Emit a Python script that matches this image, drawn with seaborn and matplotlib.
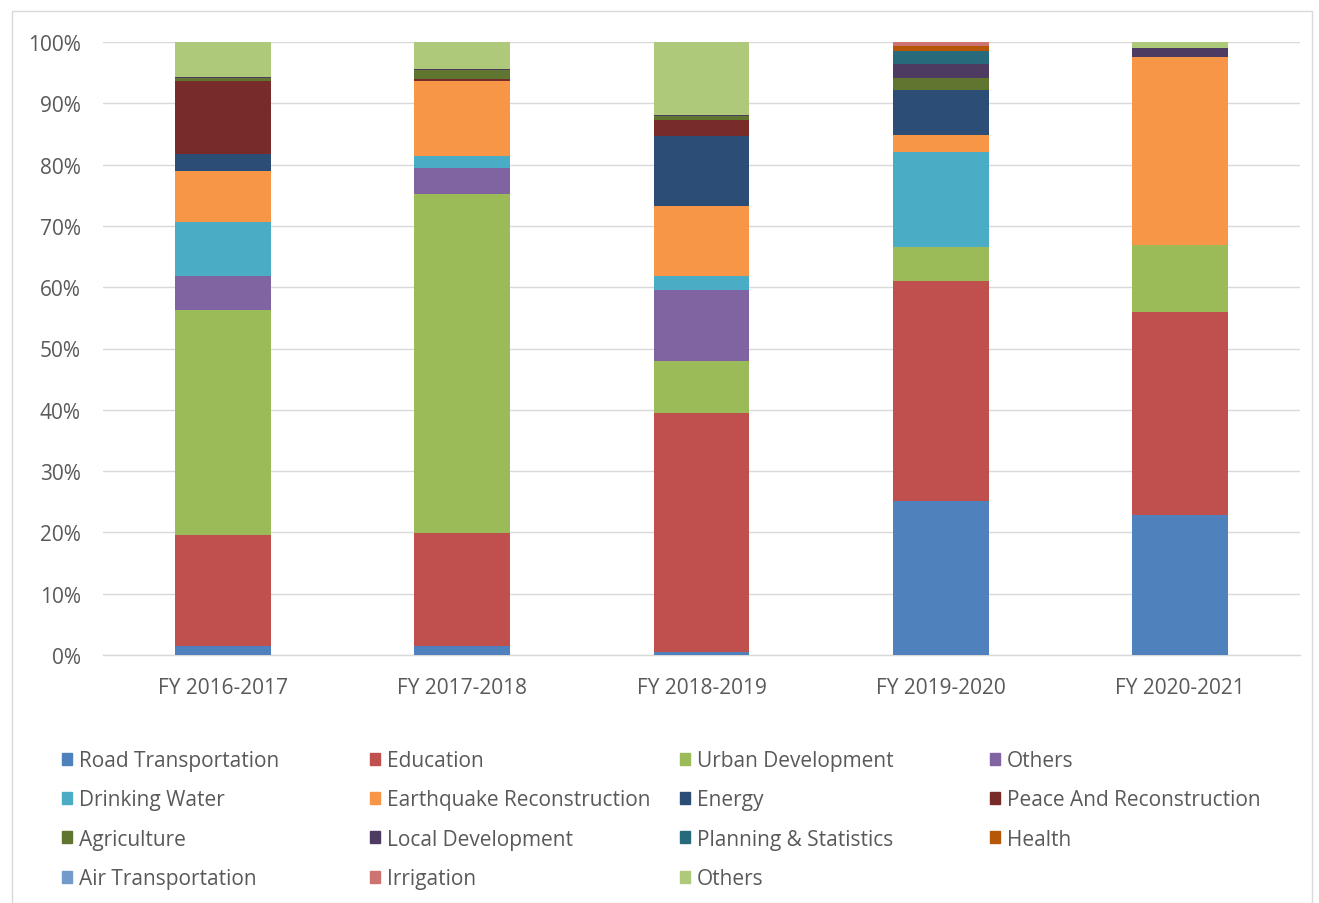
import matplotlib
matplotlib.use("Agg")
import matplotlib.pyplot as plt
import matplotlib.patches as mpatches
import seaborn as sns
import numpy as np

categories = ["FY 2016-2017", "FY 2017-2018", "FY 2018-2019", "FY 2019-2020", "FY 2020-2021"]
series_names = ["Road Transportation", "Education", "Urban Development", "Others",
                "Drinking Water", "Earthquake Reconstruction", "Energy", "Peace And Reconstruction",
                "Agriculture", "Local Development", "Planning & Statistics", "Health",
                "Air Transportation", "Irrigation", "Others"]

road_transportation = [1.4, 1.5, 0.5, 25.2, 22.8]
education = [18.2, 18.4, 39.0, 35.8, 33.2]
urban_development = [36.6, 55.3, 8.5, 5.5, 10.9]
others_purple = [5.6, 4.2, 11.6, 0.0, 0.0]
drinking_water = [8.9, 2.0, 2.3, 15.6, 0.0]
earthquake_reconstruction = [8.2, 12.3, 11.3, 2.7, 30.7]
energy = [2.9, 0.0, 11.5, 7.4, 0.0]
peace_and_reconstruction = [11.8, 0.3, 2.6, 0.0, 0.0]
agriculture = [0.5, 1.4, 0.6, 2.0, 0.0]
local_development = [0.2, 0.2, 0.2, 2.2, 1.4]
planning_statistics = [0.0, 0.0, 0.0, 2.2, 0.0]
health = [0.0, 0.0, 0.0, 0.8, 0.0]
air_transportation = [0.0, 0.0, 0.0, 0.0, 0.0]
irrigation = [0.0, 0.0, 0.0, 0.6, 0.0]
others_green = [5.7, 4.4, 11.9, 0.0, 1.0]

series_values = [road_transportation, education, urban_development, others_purple,
                 drinking_water, earthquake_reconstruction, energy, peace_and_reconstruction,
                 agriculture, local_development, planning_statistics, health,
                 air_transportation, irrigation, others_green]

colors = ["#4F81BD", "#C0504D", "#9BBB59", "#8064A2", "#4BACC6", "#F79646", "#2C4D75",
          "#772C2A", "#5F7530", "#4D3B62", "#276A7C", "#B65708", "#729ACA", "#CD7371", "#AFC97A"]

tick_labels = ["0%", "10%", "20%", "30%", "40%", "50%", "60%", "70%", "80%", "90%", "100%"]

sns.set_theme(style="white")
plt.rcParams['font.family'] = ['Open Sans', 'DejaVu Sans']
text_color = "#595959"
fs = 15

fig = plt.figure(figsize=(13.19, 9.04), dpi=100)
ax = fig.add_axes([103/1319, 1 - 656/904, (1300-103)/1319, (656-43)/904])

vals = np.array(series_values, dtype=float)
totals = vals.sum(axis=0)
pct = vals / totals * 100
bottoms = np.zeros(len(categories))
for i, (name, col) in enumerate(zip(series_names, colors)):
    sns.barplot(x=categories, y=pct[i], bottom=bottoms, color=col, width=0.4,
                ax=ax, saturation=1, linewidth=0, zorder=3)
    bottoms = bottoms + pct[i]

ax.set_xlim(-0.5, 4.5)
ax.set_ylim(0, 100)
ax.set_yticks(np.arange(0, 101, 10))
ax.set_yticklabels(tick_labels)
ax.yaxis.grid(True, color="#D9D9D9", linewidth=1, zorder=0)
ax.set_axisbelow(True)
for s in ["top", "right", "left"]:
    ax.spines[s].set_visible(False)
ax.spines["bottom"].set_color("#D9D9D9")
ax.spines["bottom"].set_linewidth(1)
ax.tick_params(axis="both", length=0, labelsize=fs, colors=text_color)
ax.tick_params(axis="x", pad=16)
ax.tick_params(axis="y", pad=16)
ax.set_xlabel("")
ax.set_ylabel("")

# chart border
fig.patches.append(mpatches.Rectangle((12/1319, 0.0), (1312-12)/1319, 1 - 12/904,
                                      transform=fig.transFigure, fill=False,
                                      edgecolor="#D9D9D9", linewidth=1))

# legend in 4 columns, row-wise order
col_x = [62, 370, 680, 990]
for c in range(4):
    idx = list(range(c, len(series_names), 4))
    handles = [mpatches.Patch(color=colors[i], label=series_names[i]) for i in idx]
    leg = fig.legend(handles=handles, loc="upper left",
                     bbox_to_anchor=(col_x[c]/1319, 1 - 751/904),
                     frameon=False, fontsize=fs, handlelength=0.5, handleheight=0.5,
                     handletextpad=0.3, labelspacing=0.88, borderaxespad=0, borderpad=0)
    for t in leg.get_texts():
        t.set_color(text_color)

fig.savefig("out.png", dpi=100, facecolor="white")
